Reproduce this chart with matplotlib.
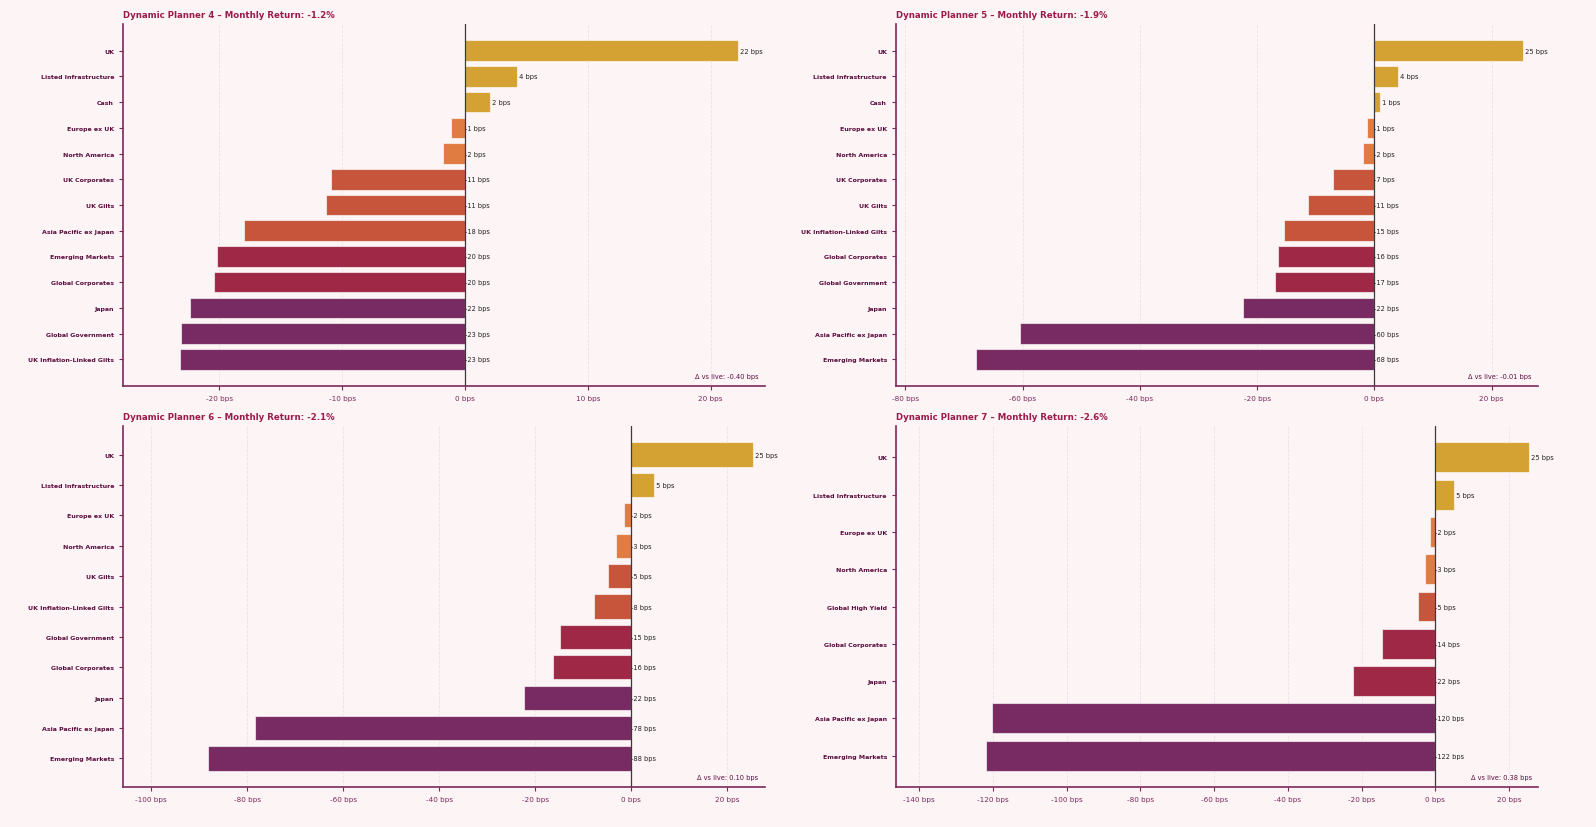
import numpy as np
import matplotlib
matplotlib.use("Agg")
import matplotlib.pyplot as plt
from matplotlib.colors import ListedColormap

# Contribution to monthly return (bps) per Dynamic Planner risk profile
dp4_labels = ["UK", "Listed Infrastructure", "Cash", "Europe ex UK", "North America",
              "UK Corporates", "UK Gilts", "Asia Pacific ex Japan", "Emerging Markets",
              "Global Corporates", "Japan", "Global Government", "UK Inflation-Linked Gilts"]
dp4_values = [22.2, 4.2, 2.0, -1.1, -1.8, -10.9, -11.3, -18.0, -20.2, -20.4, -22.4, -23.1, -23.2]

dp5_labels = ["UK", "Listed Infrastructure", "Cash", "Europe ex UK", "North America",
              "UK Corporates", "UK Gilts", "UK Inflation-Linked Gilts", "Global Corporates",
              "Global Government", "Japan", "Asia Pacific ex Japan", "Emerging Markets"]
dp5_values = [25.4, 4.1, 0.9, -1.2, -1.9, -7.0, -11.3, -15.4, -16.4, -17.0, -22.4, -60.4, -68.0]

dp6_labels = ["UK", "Listed Infrastructure", "Europe ex UK", "North America", "UK Gilts",
              "UK Inflation-Linked Gilts", "Global Government", "Global Corporates", "Japan",
              "Asia Pacific ex Japan", "Emerging Markets"]
dp6_values = [25.3, 4.8, -1.6, -3.1, -4.8, -7.7, -14.8, -16.4, -22.4, -78.3, -88.2]

dp7_labels = ["UK", "Listed Infrastructure", "Europe ex UK", "North America", "Global High Yield",
              "Global Corporates", "Japan", "Asia Pacific ex Japan", "Emerging Markets"]
dp7_values = [25.3, 4.9, -1.6, -2.7, -4.6, -14.4, -22.4, -120.3, -121.9]

titles = ["Dynamic Planner 4 – Monthly Return: -1.2%",
          "Dynamic Planner 5 – Monthly Return: -1.9%",
          "Dynamic Planner 6 – Monthly Return: -2.1%",
          "Dynamic Planner 7 – Monthly Return: -2.6%"]
deltas = [-0.40, -0.01, 0.10, 0.38]

panels = [(dp4_labels, dp4_values), (dp5_labels, dp5_values),
          (dp6_labels, dp6_values), (dp7_labels, dp7_values)]

BG = "#fdf4f6"
DARK = "#5b0d3d"
ACCENT = "#9b1b4b"
cmap = ListedColormap(["#d4a232", "#e07b42", "#c7553b", "#9e2846", "#772b62"])

fig = plt.figure(figsize=(15.96, 8.28), dpi=100, facecolor=BG)
boxes = [(0.0771, 0.5326, 0.4022, 0.4372), (0.5614, 0.5326, 0.4023, 0.4372),
         (0.0771, 0.0483, 0.4022, 0.4360), (0.5614, 0.0483, 0.4023, 0.4360)]

for (labels, values), title, delta, box in zip(panels, titles, deltas, boxes):
    ax = fig.add_axes(box)
    ax.set_facecolor(BG)
    n = len(values)
    y = np.arange(n)
    colors = cmap(np.linspace(0, 1, n))
    ax.barh(y, values, height=0.8, color=colors, edgecolor=(1, 1, 1, 0.6), linewidth=0.8,
            zorder=2)
    ax.axvline(0, color="#3a3a3a", linewidth=0.9, zorder=3)
    ax.invert_yaxis()
    ax.set_yticks(y)
    ax.set_yticklabels(labels, fontsize=4.5, fontweight="bold", color=DARK)

    for yi, v in zip(y, values):
        ax.text(v if v > 0 else 0, yi, f" {v:.0f} bps" if v > 0 else f"{v:.0f} bps",
                va="center", ha="left", fontsize=4.8, color="#222222", zorder=4)

    ax.set_xlim(min(values) * 1.2, max(values) * 1.1)
    ticks = [t for t in ax.get_xticks() if ax.get_xlim()[0] <= t <= ax.get_xlim()[1]]
    ax.set_xticks(ticks)
    ax.set_xticklabels([f"{t:.0f} bps" for t in ticks], fontsize=5.2, color="#7a2a5a")

    ax.grid(axis="x", linestyle="--", linewidth=0.6, color="#e8d3db", alpha=0.6, zorder=2.5)
    for side in ["top", "right"]:
        ax.spines[side].set_visible(False)
    for side in ["left", "bottom"]:
        ax.spines[side].set_color("#7a2a5a")
        ax.spines[side].set_linewidth(1.2)
    ax.tick_params(axis="both", colors="#7a2a5a", length=3, width=0.8)
    ax.tick_params(axis="y", labelcolor=DARK)

    ax.set_title(title, loc="left", fontsize=6.2, fontweight="bold", color=ACCENT, pad=5)
    ax.text(0.99, 0.02, f"Δ vs live: {delta:.2f} bps", transform=ax.transAxes,
            ha="right", va="bottom", fontsize=4.8, color=DARK)

fig.savefig("out.png", dpi=100, facecolor=BG)
